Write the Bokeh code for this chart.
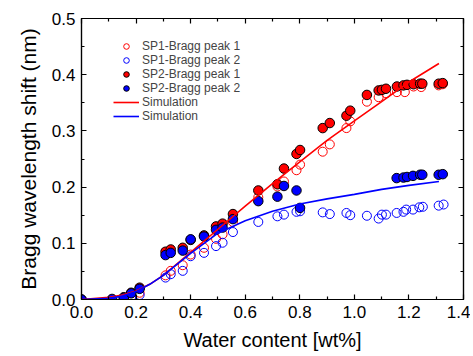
from bokeh.plotting import figure
from bokeh.models import (Legend, LegendItem, LinearAxis, FixedTicker, PrintfTickFormatter, Range1d,
                          CustomJSTickFormatter)
from bokeh.embed import file_html
from bokeh.resources import INLINE

# ---- data ----
sp2_p1_x = [0, 0.155, 0.182, 0.213, 0.308, 0.327, 0.371, 0.400, 0.449, 0.493, 0.517, 0.555, 0.648,
            0.718, 0.742, 0.788, 0.801, 0.884, 0.910, 0.971, 0.985, 1.046, 1.089, 1.101, 1.116, 1.156,
            1.180, 1.193, 1.217, 1.241, 1.249, 1.309, 1.324]
sp2_p1_y = [0, 0.004, 0.012, 0.021, 0.085, 0.089, 0.092, 0.106, 0.114, 0.130, 0.135, 0.152, 0.194,
            0.205, 0.233, 0.259, 0.266, 0.305, 0.314, 0.327, 0.336, 0.364, 0.372, 0.373, 0.375, 0.379,
            0.381, 0.382, 0.383, 0.384, 0.384, 0.384, 0.385]

sp2_p2_x = [0, 0.112, 0.155, 0.182, 0.213, 0.308, 0.327, 0.371, 0.400, 0.449, 0.493, 0.517, 0.555,
            0.648, 0.718, 0.742, 0.788, 0.801, 1.155, 1.180, 1.193, 1.215, 1.241, 1.249, 1.309, 1.324]
sp2_p2_y = [0, 0.001, 0.003, 0.011, 0.019, 0.079, 0.083, 0.087, 0.107, 0.112, 0.124, 0.128, 0.143,
            0.175, 0.183, 0.202, 0.194, 0.163, 0.216, 0.217, 0.218, 0.220, 0.222, 0.222, 0.222, 0.223]

sp1_p1_x = [0.182, 0.213, 0.308, 0.327, 0.371, 0.400, 0.449, 0.493, 0.517, 0.555, 0.648, 0.718, 0.742,
            0.788, 0.801, 0.884, 0.910, 0.971, 0.985, 1.046, 1.089, 1.116, 1.156, 1.185, 1.217, 1.245,
            1.309, 1.324]
sp1_p1_y = [0.005, 0.012, 0.043, 0.051, 0.061, 0.080, 0.092, 0.108, 0.116, 0.138, 0.182, 0.201, 0.210,
            0.230, 0.240, 0.263, 0.276, 0.305, 0.317, 0.352, 0.360, 0.367, 0.369, 0.369, 0.379, 0.378,
            0.381, 0.383]

sp1_p2_x = [0.182, 0.213, 0.308, 0.327, 0.371, 0.400, 0.449, 0.493, 0.517, 0.555, 0.648, 0.718, 0.742,
            0.788, 0.801, 0.884, 0.910, 0.971, 0.985, 1.046, 1.089, 1.101, 1.116, 1.155, 1.180, 1.190,
            1.215, 1.238, 1.251, 1.309, 1.327]
sp1_p2_y = [0.004, 0.008, 0.039, 0.045, 0.051, 0.077, 0.083, 0.095, 0.101, 0.120, 0.138, 0.148, 0.151,
            0.156, 0.157, 0.155, 0.152, 0.154, 0.150, 0.149, 0.144, 0.151, 0.151, 0.154, 0.156, 0.160,
            0.160, 0.164, 0.165, 0.167, 0.169]

sim_x = [0, 0.1, 0.15, 0.2, 0.25, 0.3, 0.4, 0.5, 0.6, 0.7, 0.8, 0.9, 1.0, 1.1, 1.2, 1.31]
sim1_y = [0, 0.004, 0.008, 0.015, 0.027, 0.043, 0.084, 0.125, 0.166, 0.206, 0.245, 0.283, 0.318,
          0.352, 0.387, 0.420]
sim2_y = [0, 0.002, 0.006, 0.014, 0.027, 0.043, 0.082, 0.118, 0.140, 0.157, 0.170, 0.179, 0.187,
          0.196, 0.203, 0.210]

x_ticks = [0.0, 0.2, 0.4, 0.6, 0.8, 1.0, 1.2, 1.4]
x_minor = [0.1, 0.3, 0.5, 0.7, 0.9, 1.1, 1.3]
y_ticks = [0.0, 0.1, 0.2, 0.3, 0.4, 0.5]
y_minor = [0.05, 0.15, 0.25, 0.35, 0.45]

labels = ["SP1-Bragg peak 1", "SP1-Bragg peak 2", "SP2-Bragg peak 1", "SP2-Bragg peak 2",
          "Simulation", "Simulation"]

RED = "#ff0000"
BLUE = "#0000ff"
FONT = "Liberation Sans"

p = figure(width=470, height=354, x_range=Range1d(0, 1.4), y_range=Range1d(0, 0.5),
           output_backend="svg", toolbar_location=None,
           min_border_left=81, min_border_right=7, min_border_top=18, min_border_bottom=55)
p.grid.visible = False
p.outline_line_color = "black"
p.outline_line_width = 1.2

p.add_layout(LinearAxis(), "above")
p.add_layout(LinearAxis(), "right")

for ax in p.xaxis:
    ax.ticker = FixedTicker(ticks=x_ticks, minor_ticks=x_minor)
for ax in p.yaxis:
    ax.ticker = FixedTicker(ticks=y_ticks, minor_ticks=y_minor)

for ax in p.axis:
    ax.major_tick_in = 5
    ax.major_tick_out = 0
    ax.minor_tick_in = 3
    ax.minor_tick_out = 0
    ax.axis_line_width = 1.2
    ax.major_tick_line_width = 1.2
    ax.minor_tick_line_width = 1.2
    ax.formatter = PrintfTickFormatter(format="%.1f")
    ax.major_label_text_font = FONT
    ax.major_label_text_font_size = "17px"
    ax.major_label_text_color = "black"
    ax.major_label_standoff = 6

for ax in (p.above[0], p.right[0]):
    ax.formatter = CustomJSTickFormatter(code="return ''")
    ax.major_label_standoff = 0

xa = p.below[0]
ya = p.left[0]
xa.axis_label = "Water content [wt%]"
ya.axis_label = "Bragg wavelength shift (nm)"
for ax, fs in ((xa, "20px"), (ya, "21px")):
    ax.axis_label_text_font = FONT
    ax.axis_label_text_font_size = fs
    ax.axis_label_text_font_style = "normal"
    ax.axis_label_text_color = "black"
xa.axis_label_standoff = 8
ya.axis_label_standoff = 9

r1 = p.scatter(sp1_p1_x, sp1_p1_y, size=9, marker="circle", fill_color=None, line_color=RED, line_width=1)
r2 = p.scatter(sp1_p2_x, sp1_p2_y, size=9, marker="circle", fill_color=None, line_color=BLUE, line_width=1)
r3 = p.scatter(sp2_p1_x, sp2_p1_y, size=9.5, marker="circle", fill_color=RED, line_color="black", line_width=1)
r4 = p.scatter(sp2_p2_x, sp2_p2_y, size=9.5, marker="circle", fill_color=BLUE, line_color="black", line_width=1)
r5 = p.line(sim_x, sim1_y, line_color=RED, line_width=1.6)
r6 = p.line(sim_x, sim2_y, line_color=BLUE, line_width=1.6)

# legend items (two distinct "Simulation" entries)
legend = Legend(items=[LegendItem(label=labels[i], renderers=[r]) for i, r in
                       enumerate([r1, r2, r3, r4, r5, r6])],
                location=(32, 176), padding=0, margin=0, spacing=0,
                glyph_width=26, glyph_height=14, label_height=14, label_standoff=3,
                label_text_font=FONT, label_text_font_size="12px",
                border_line_color=None, background_fill_alpha=0)
p.add_layout(legend)

open("out.html", "w").write(file_html(p, INLINE))
